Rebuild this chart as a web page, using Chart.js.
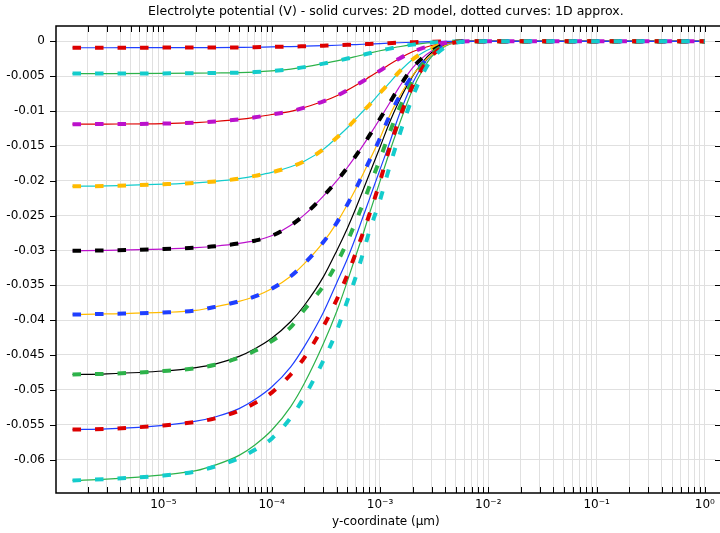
<!DOCTYPE html>
<html>
<head>
<meta charset="utf-8">
<script src="https://cdn.jsdelivr.net/npm/chart.js@4/dist/chart.umd.min.js"></script>
<style>
  html, body { margin: 0; padding: 0; background: #fff; }
</style>
</head>
<body>
<canvas id="chart" width="720" height="533"></canvas>
<script>
// y-coordinate (um), shared by all curves
const yCoord = [1.45e-6, 3e-6, 1e-5, 2e-5, 3e-5, 5e-5, 7e-5, 1e-4, 1.5e-4, 2e-4, 3e-4, 4e-4, 5e-4, 6e-4, 7e-4, 8e-4,
                1e-3, 1.2e-3, 1.5e-3, 2e-3, 2.5e-3, 3e-3, 4e-3, 5e-3, 7e-3, 1e-2, 1e-1, 1];

// dotted curves: 1D approximation (V)
const approx1D_1 = [-0.00092, -0.00092, -0.0009, -0.0009, -0.00089, -0.00087, -0.00085, -0.00079, -0.00075, -0.0007, -0.00062, -0.00056, -0.0005, -0.00046, -0.00042, -0.00038,
                    -0.00032, -0.00026, -0.0002, -0.00013, -0.00008, -0.00005, -0.00001, 0, 0, 0, 0, 0];
const approx1D_2 = [-0.00462, -0.00462, -0.0046, -0.00457, -0.00454, -0.00449, -0.00441, -0.00425, -0.00398, -0.0037, -0.0032, -0.0028, -0.00247, -0.00218, -0.00193, -0.00171,
                    -0.00135, -0.00108, -0.00078, -0.00047, -0.00029, -0.00018, -0.00006, -0.00002, 0, 0, 0, 0];
const approx1D_3 = [-0.01188, -0.01187, -0.0118, -0.01165, -0.0115, -0.0112, -0.0109, -0.0105, -0.01005, -0.0095, -0.0086, -0.0078, -0.007, -0.0063, -0.0057, -0.0051,
                    -0.0042, -0.0034, -0.0025, -0.0015, -0.00095, -0.0006, -0.0002, -0.00005, 0, 0, 0, 0];
const approx1D_4 = [-0.0208, -0.02075, -0.0205, -0.0203, -0.0201, -0.0197, -0.0193, -0.0188, -0.018, -0.0172, -0.0155, -0.0138, -0.0124, -0.0111, -0.01, -0.0091,
                    -0.0074, -0.0061, -0.0044, -0.0026, -0.0016, -0.001, -0.0003, -0.00008, 0, 0, 0, 0];
const approx1D_5 = [-0.03005, -0.03, -0.0298, -0.0296, -0.0294, -0.029, -0.0286, -0.0279, -0.0264, -0.0249, -0.0222, -0.02, -0.0181, -0.0164, -0.0149, -0.0135,
                    -0.0111, -0.0091, -0.0066, -0.0038, -0.0023, -0.0014, -0.0004, -0.0001, 0, 0, 0, 0];
const approx1D_6 = [-0.0392, -0.0391, -0.0389, -0.0386, -0.0381, -0.0373, -0.0366, -0.0355, -0.0337, -0.0319, -0.0288, -0.026, -0.0234, -0.0211, -0.019, -0.0171,
                    -0.0139, -0.011, -0.008, -0.0049, -0.0031, -0.0019, -0.0006, -0.00015, 0, 0, 0, 0];
const approx1D_7 = [-0.0478, -0.0477, -0.0473, -0.0469, -0.0464, -0.0454, -0.0444, -0.043, -0.041, -0.0385, -0.0351, -0.0318, -0.0287, -0.0258, -0.0232, -0.0208,
                    -0.0169, -0.0135, -0.0097, -0.0057, -0.0032, -0.0018, -0.0005, -0.0001, 0, 0, 0, 0];
const approx1D_8 = [-0.0557, -0.0556, -0.0551, -0.0546, -0.0541, -0.053, -0.0519, -0.0504, -0.0478, -0.0454, -0.0409, -0.037, -0.0335, -0.0303, -0.0274, -0.0248,
                    -0.0201, -0.0158, -0.0112, -0.0064, -0.0037, -0.0021, -0.0006, -0.00015, 0, 0, 0, 0];
const approx1D_9 = [-0.063, -0.0628, -0.0623, -0.0617, -0.061, -0.0598, -0.0586, -0.057, -0.054, -0.051, -0.0458, -0.0415, -0.0372, -0.0337, -0.0303, -0.0272,
                    -0.0228, -0.0185, -0.0136, -0.008, -0.0046, -0.0026, -0.0008, -0.0002, 0, 0, 0, 0];

// solid curves: 2D model (V); the top six lie on the 1D ones
const model2D_1 = approx1D_1;
const model2D_2 = approx1D_2;
const model2D_3 = approx1D_3;
const model2D_4 = approx1D_4;
const model2D_5 = approx1D_5;
const model2D_6 = approx1D_6;
const model2D_7 = [-0.0478, -0.0477, -0.0473, -0.0468, -0.0463, -0.0452, -0.0441, -0.0426, -0.0402, -0.0379, -0.0338, -0.03, -0.0268, -0.0239, -0.0213, -0.019,
                   -0.0152, -0.012, -0.0086, -0.005, -0.0029, -0.0016, -0.0004, -0.0001, 0, 0, 0, 0];
const model2D_8 = [-0.0557, -0.0556, -0.0551, -0.0545, -0.0539, -0.0527, -0.0514, -0.0496, -0.0467, -0.0438, -0.0389, -0.0346, -0.0312, -0.028, -0.0251, -0.0226,
                   -0.0184, -0.015, -0.0106, -0.006, -0.0034, -0.0019, -0.0005, -0.0001, 0, 0, 0, 0];
const model2D_9 = [-0.063, -0.0628, -0.0622, -0.0616, -0.0608, -0.0594, -0.0579, -0.0558, -0.0524, -0.0491, -0.0434, -0.0387, -0.0344, -0.0307, -0.0276, -0.0247,
                   -0.0201, -0.0163, -0.012, -0.0069, -0.004, -0.0022, -0.0007, -0.0002, 0, 0, 0, 0];

const model2D = [model2D_1, model2D_2, model2D_3, model2D_4, model2D_5, model2D_6, model2D_7, model2D_8, model2D_9];
const approx1D = [approx1D_1, approx1D_2, approx1D_3, approx1D_4, approx1D_5, approx1D_6, approx1D_7, approx1D_8, approx1D_9];

const yTicks = [0, -0.005, -0.01, -0.015, -0.02, -0.025, -0.03, -0.035, -0.04, -0.045, -0.05, -0.055, -0.06];
const yTickLabels = ['0', '-0.005', '-0.01', '-0.015', '-0.02', '-0.025', '-0.03', '-0.035', '-0.04', '-0.045', '-0.05', '-0.055', '-0.06'];
const xMajor = [1e-5, 1e-4, 1e-3, 1e-2, 1e-1, 1];
const xMajorLabels = ['10\u207B\u2075', '10\u207B\u2074', '10\u207B\u00B3', '10\u207B\u00B2', '10\u207B\u00B9', '10\u2070'];

// COMSOL colour cycle
const palette = ['#1f3fff', '#2db24a', '#dd0000', '#14cccc', '#bb11cc', '#ffbb00', '#000000'];

const X_MIN = 1.02e-6, X_MAX = 1.26;

function logTicks() {
    const out = [];
    for (let e = -6; e <= 0; e++) {
        for (let m = 1; m <= 9; m++) {
            const v = m * Math.pow(10, e);
            if (v >= X_MIN && v <= X_MAX) out.push({value: v});
        }
    }
    return out;
}

const datasets = [];
model2D.forEach((arr, i) => {
    datasets.push({
        data: yCoord.map((x, k) => ({x: x, y: arr[k]})),
        borderColor: palette[i % 7],
        borderWidth: 1.2,
        pointRadius: 0,
        cubicInterpolationMode: 'monotone',
        order: 20 + i
    });
});
approx1D.forEach((arr, i) => {
    datasets.push({
        data: yCoord.map((x, k) => ({x: x, y: arr[k]})),
        borderColor: palette[(i + 2) % 7],
        borderWidth: 4,
        borderDash: [8.5, 14],
        borderCapStyle: 'butt',
        pointRadius: 0,
        cubicInterpolationMode: 'monotone',
        order: 9 - i
    });
});

// axis frame with tick marks
const framePlugin = {
    id: 'frame',
    afterDraw(chart) {
        const {ctx, chartArea: a} = chart;
        const xs = chart.scales.x, ys = chart.scales.y;
        ctx.save();
        ctx.strokeStyle = '#000';
        ctx.lineWidth = 1;
        ctx.beginPath();
        xs.ticks.forEach(t => {
            const px = Math.round(xs.getPixelForValue(t.value)) + 0.5;
            ctx.moveTo(px, a.bottom); ctx.lineTo(px, a.bottom - 6);
            ctx.moveTo(px, a.top); ctx.lineTo(px, a.top + 6);
        });
        ys.ticks.forEach(t => {
            const py = Math.round(ys.getPixelForValue(t.value)) + 0.5;
            ctx.moveTo(a.left, py); ctx.lineTo(a.left - 6, py);
            ctx.moveTo(chart.width, py); ctx.lineTo(chart.width - 5, py);
        });
        ctx.stroke();
        ctx.lineWidth = 1.5;
        ctx.beginPath();
        ctx.moveTo(chart.width, a.top); ctx.lineTo(a.left, a.top);
        ctx.lineTo(a.left, a.bottom); ctx.lineTo(chart.width, a.bottom);
        ctx.stroke();
        ctx.restore();
    }
};

Chart.defaults.font.family = "'DejaVu Sans', sans-serif";
Chart.defaults.color = '#000';

new Chart(document.getElementById('chart').getContext('2d'), {
    type: 'line',
    data: {datasets: datasets},
    options: {
        responsive: false,
        animation: false,
        layout: {padding: {left: 0, right: 0, top: 0, bottom: 0}},
        plugins: {
            legend: {display: false},
            tooltip: {enabled: false},
            title: {
                display: true,
                fullSize: false,
                text: 'Electrolyte potential (V) - solid curves: 2D model, dotted curves: 1D approx.',
                font: {size: 12.5, weight: 'normal'},
                padding: {top: 4, bottom: 7}
            }
        },
        scales: {
            x: {
                type: 'logarithmic',
                min: X_MIN,
                max: X_MAX,
                afterBuildTicks: scale => { scale.ticks = logTicks(); },
                afterFit: scale => { scale.height = 40; },
                ticks: {
                    autoSkip: false,
                    maxRotation: 0,
                    padding: 5,
                    font: {size: 12},
                    callback: function(v) {
                        const i = xMajor.findIndex(m => Math.abs(Math.log10(m) - Math.log10(v)) < 1e-6);
                        return i >= 0 ? xMajorLabels[i] : '';
                    }
                },
                grid: {color: '#e0e0e0', drawTicks: false},
                border: {display: false},
                title: {display: true, text: 'y-coordinate (\u00B5m)', font: {size: 12}, padding: {top: 0, bottom: 4}}
            },
            y: {
                type: 'linear',
                min: -0.0648,
                max: 0.0022,
                afterBuildTicks: scale => { scale.ticks = yTicks.map(v => ({value: v})); },
                afterFit: scale => { scale.width = 56; },
                ticks: {
                    padding: 11,
                    font: {size: 12},
                    callback: (v, i) => yTickLabels[i]
                },
                grid: {color: '#e0e0e0', drawTicks: false},
                border: {display: false}
            }
        }
    },
    plugins: [framePlugin]
});
</script>
</body>
</html>
